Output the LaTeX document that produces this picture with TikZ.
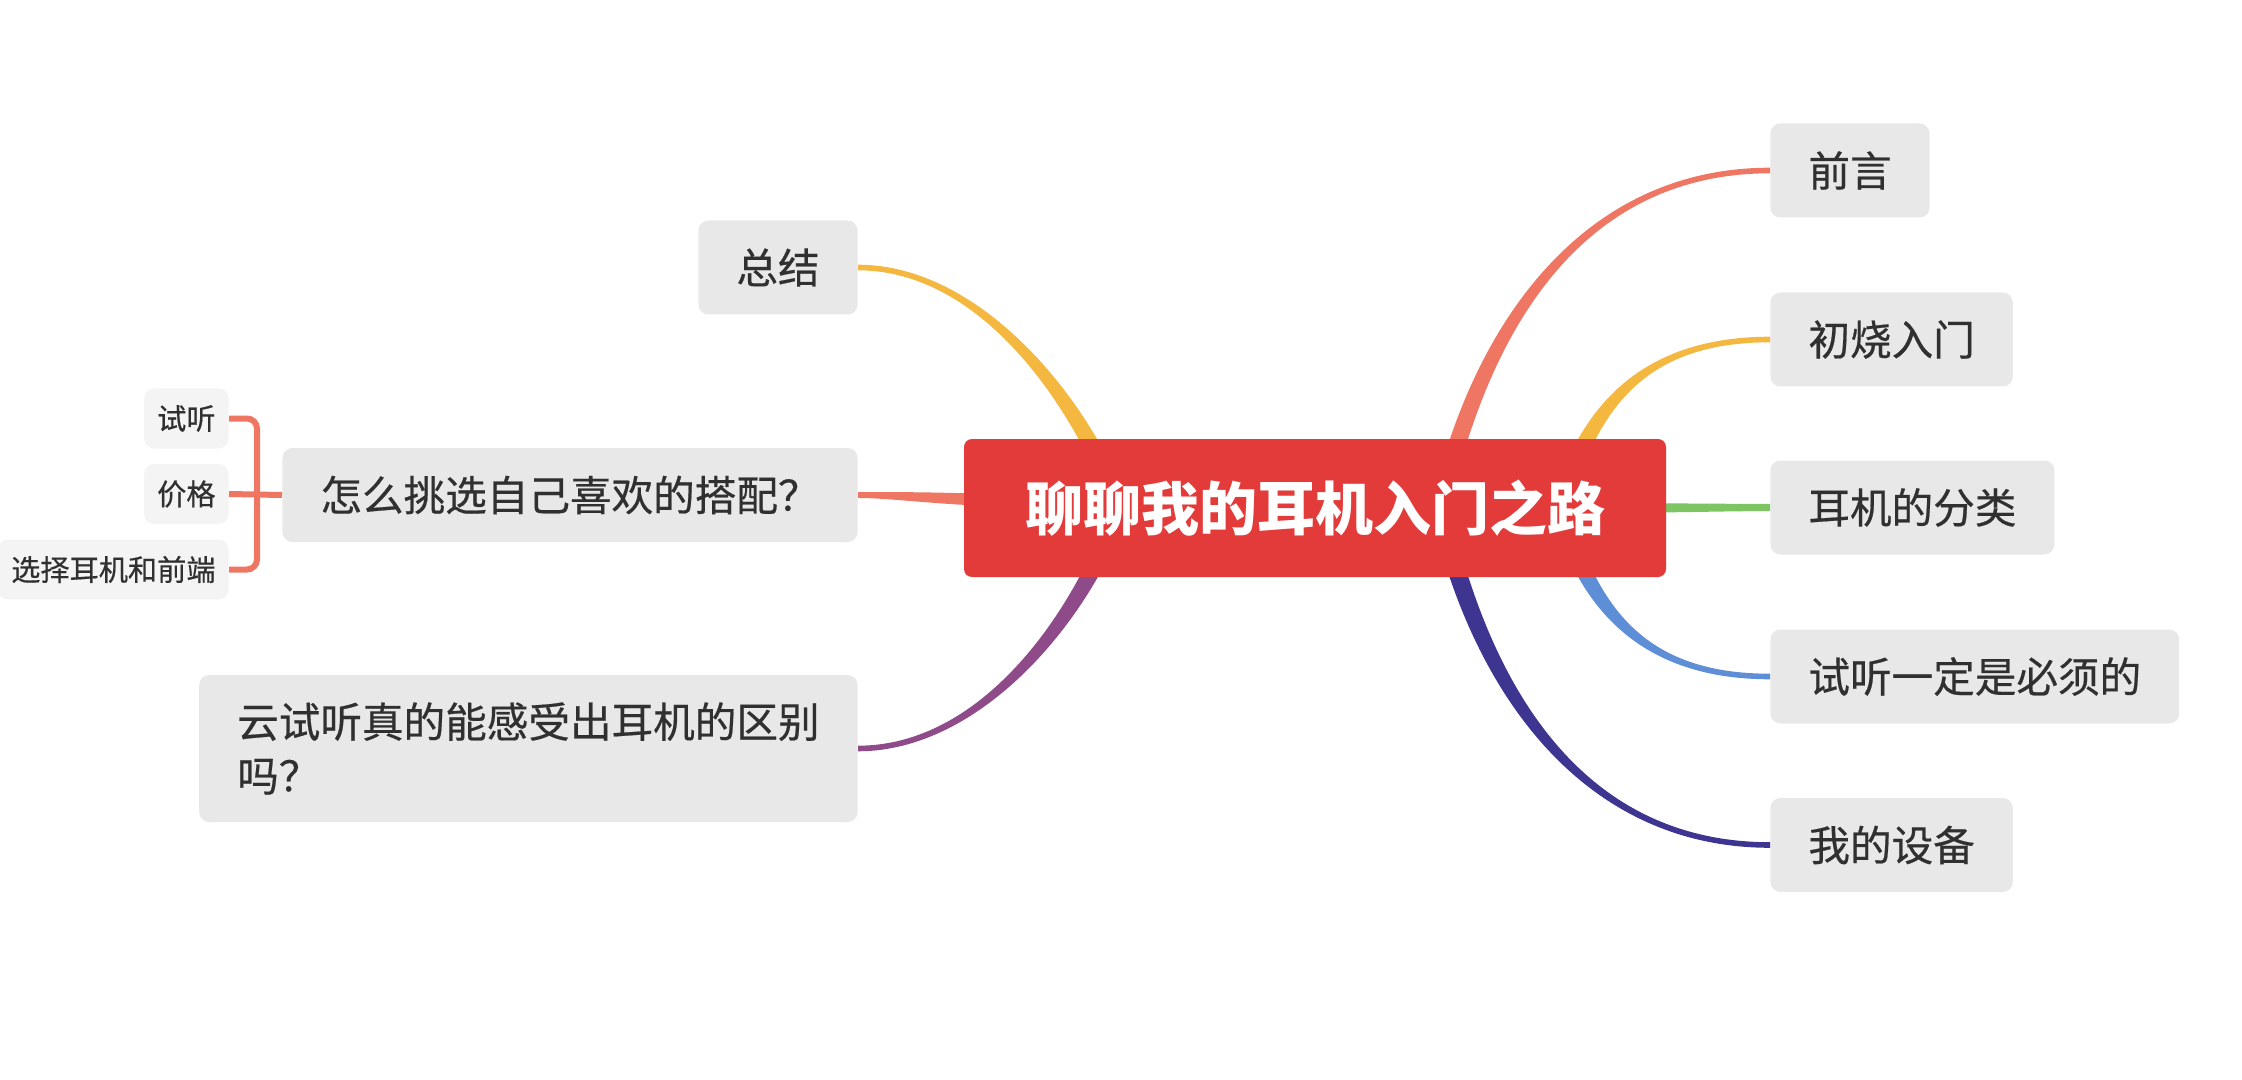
\documentclass[tikz,border=0pt]{standalone}
\usepackage{fontspec}
\setmainfont{Noto Sans CJK SC}
\newfontfamily\topicfont{Noto Sans CJK SC}[FakeBold=0.5]
\usepackage{xcolor}
\usetikzlibrary{calc}

\definecolor{rootred}{HTML}{E33B3A}
\definecolor{boxgray}{HTML}{E8E8E8}
\definecolor{leafgray}{HTML}{F4F4F4}
\definecolor{ink}{HTML}{303030}
\definecolor{salmon}{HTML}{EE7662}
\definecolor{amber}{HTML}{F4B73F}
\definecolor{leaf}{HTML}{7DC462}
\definecolor{sky}{HTML}{5E8FD6}
\definecolor{indigo}{HTML}{3E3591}
\definecolor{plum}{HTML}{8E4A89}

% tapered branch: colour, start, control 1, control 2, end, half width at start, half width at end
\newcommand{\branch}[7]{%
  \fill[#1]
    ($(#2)!#6!90:(#3)$) .. controls ($(#3)!#6!-90:(#2)$) and ($(#4)!#7!90:(#5)$) .. ($(#5)!#7!-90:(#4)$)
    -- ($(#5)!#7!90:(#4)$) .. controls ($(#4)!#7!-90:(#5)$) and ($(#3)!#6!90:(#2)$) .. ($(#2)!#6!-90:(#3)$) -- cycle;}

\begin{document}
\begin{tikzpicture}[
  x=0.5pt, y=-0.5pt,
  root/.style={fill=rootred, text=white, rounded corners=4pt, font=\bfseries\fontsize{29}{35}\selectfont,
    minimum width=351pt, minimum height=69pt},
  topic/.style={fill=boxgray, text=ink, rounded corners=5pt, font=\topicfont\fontsize{20.8}{27}\selectfont,
    inner xsep=19pt, minimum height=47pt},
  leafbox/.style={fill=leafgray, text=ink, rounded corners=5pt, font=\topicfont\fontsize{14.6}{17}\selectfont,
    inner xsep=6.5pt, minimum height=30pt},
  bracket/.style={draw=salmon, line width=3pt}
]
\useasboundingbox (0,0) rectangle (2242,1080);

% Right topics
\node[topic, anchor=west] (qy) at (1770,170.5) {前言};
\node[topic, anchor=west] (cs) at (1770,339.5) {初烧入门};
\node[topic, anchor=west] (fl) at (1770,507.5) {耳机的分类};
\node[topic, anchor=west] (st) at (1770,676.5) {试听一定是必须的};
\node[topic, anchor=west] (sb) at (1770,845) {我的设备};

% Left topics
\node[topic, anchor=east] (zj) at (858,267.5) {总结};
\node[topic, anchor=east] (zm) at (858,495) {怎么挑选自己喜欢的搭配？};
\node[topic, anchor=east, align=left, minimum height=73.5pt] (yt) at (858,748.5)
  {云试听真的能感受出耳机的区别\\吗？};

% Leaves of the second left topic
\node[leafbox, anchor=east] (ts) at (229,418.5) {试听};
\node[leafbox, anchor=east] (jg) at (229,494) {价格};
\node[leafbox, anchor=east] (xz) at (229,569.5) {选择耳机和前端};

\coordinate (brk) at (257,495);
\draw[bracket, rounded corners=5pt] (ts.east) -| (brk) |- (xz.east);
\draw[bracket] (jg.east) -- (zm.west);

% Hubs inside the root
\coordinate (hub-r1) at (1440,508);
\coordinate (hub-r2) at (1560,508);
\coordinate (hub-r3) at (1600,508);
\coordinate (hub-l1) at (1120,508);
\coordinate (hub-l2) at (990,500);

% Branches
\branch{salmon}{hub-r1}{1480,330}{1580,170.5}{qy.west}{4.5pt}{1.4pt}
\branch{amber}{hub-r2}{1590,400}{1650,339.5}{cs.west}{4.5pt}{1.4pt}
\branch{leaf}{hub-r3}{1680,508}{1720,507.5}{fl.west}{2.4pt}{1.8pt}
\branch{sky}{hub-r2}{1590,616}{1650,676.5}{st.west}{4.5pt}{1.4pt}
\branch{indigo}{hub-r1}{1480,686}{1580,845}{sb.west}{4.7pt}{1.4pt}
\branch{amber}{hub-l1}{1080,400}{980,267.5}{zj.east}{4.5pt}{1.4pt}
\branch{salmon}{hub-l2}{930,498}{890,495}{zm.east}{3pt}{1.5pt}
\branch{plum}{hub-l1}{1080,620}{980,748.5}{yt.east}{4.5pt}{1.4pt}

% Root
\node[root] (root) at (1315,508) {聊聊我的耳机入门之路};
\end{tikzpicture}
\end{document}
